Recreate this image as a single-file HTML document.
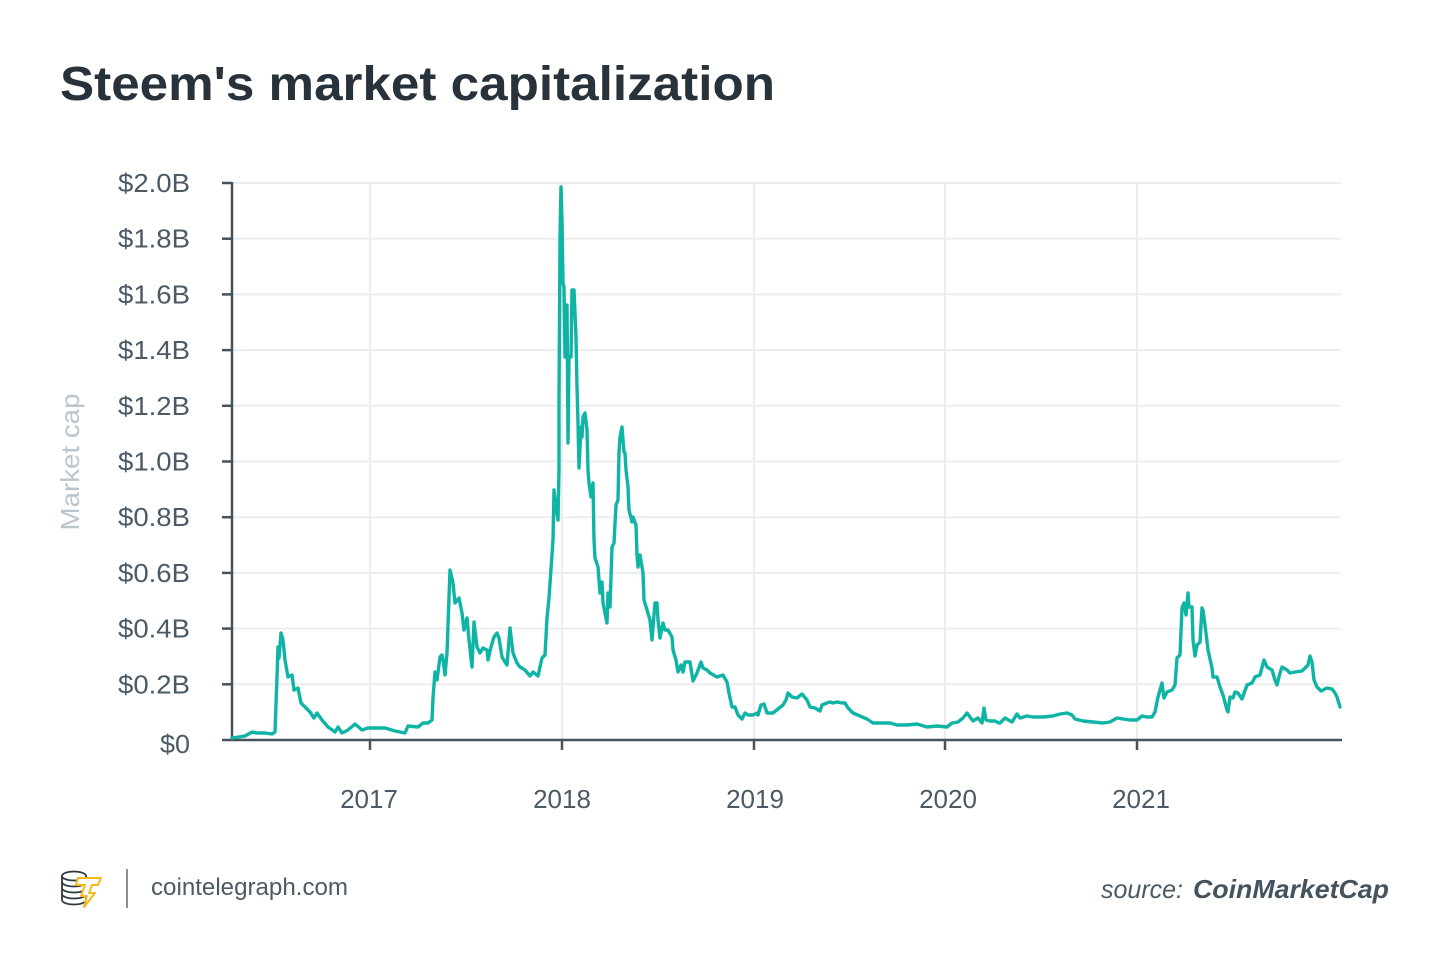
<!DOCTYPE html>
<html>
<head>
<meta charset="utf-8">
<style>
  html,body{margin:0;padding:0;background:#fff;}
  svg{display:block;}
  text{font-family:"Liberation Sans",sans-serif;}
</style>
</head>
<body>
<svg width="1450" height="969" viewBox="0 0 1450 969" xmlns="http://www.w3.org/2000/svg">
  <rect width="1450" height="969" fill="#ffffff"/>

  <!-- Title -->
  <text x="60" y="100" font-size="48" font-weight="bold" fill="#27323a" textLength="715" lengthAdjust="spacingAndGlyphs">Steem's market capitalization</text>

  <!-- Horizontal gridlines -->
  <g stroke="#ededed" stroke-width="2">
    <line x1="232" y1="183" x2="1341" y2="183"/>
    <line x1="232" y1="238.7" x2="1341" y2="238.7"/>
    <line x1="232" y1="294.4" x2="1341" y2="294.4"/>
    <line x1="232" y1="350.1" x2="1341" y2="350.1"/>
    <line x1="232" y1="405.8" x2="1341" y2="405.8"/>
    <line x1="232" y1="461.5" x2="1341" y2="461.5"/>
    <line x1="232" y1="517.2" x2="1341" y2="517.2"/>
    <line x1="232" y1="572.9" x2="1341" y2="572.9"/>
    <line x1="232" y1="628.6" x2="1341" y2="628.6"/>
    <line x1="232" y1="684.3" x2="1341" y2="684.3"/>
  </g>
  <!-- Vertical gridlines -->
  <g stroke="#ededed" stroke-width="2">
    <line x1="370" y1="183" x2="370" y2="740"/>
    <line x1="562" y1="183" x2="562" y2="740"/>
    <line x1="754" y1="183" x2="754" y2="740"/>
    <line x1="945" y1="183" x2="945" y2="740"/>
    <line x1="1137" y1="183" x2="1137" y2="740"/>
  </g>

  <!-- Axes -->
  <g stroke="#44535e" stroke-width="2.5" fill="none">
    <line x1="232" y1="182" x2="232" y2="741"/>
    <line x1="222" y1="740" x2="1342" y2="740"/>
    <line x1="222" y1="183" x2="232" y2="183"/>
    <line x1="222" y1="238.7" x2="232" y2="238.7"/>
    <line x1="222" y1="294.4" x2="232" y2="294.4"/>
    <line x1="222" y1="350.1" x2="232" y2="350.1"/>
    <line x1="222" y1="405.8" x2="232" y2="405.8"/>
    <line x1="222" y1="461.5" x2="232" y2="461.5"/>
    <line x1="222" y1="517.2" x2="232" y2="517.2"/>
    <line x1="222" y1="572.9" x2="232" y2="572.9"/>
    <line x1="222" y1="628.6" x2="232" y2="628.6"/>
    <line x1="222" y1="684.3" x2="232" y2="684.3"/>
    <line x1="370" y1="740" x2="370" y2="750"/>
    <line x1="562" y1="740" x2="562" y2="750"/>
    <line x1="754" y1="740" x2="754" y2="750"/>
    <line x1="945" y1="740" x2="945" y2="750"/>
    <line x1="1137" y1="740" x2="1137" y2="750"/>
  </g>

  <!-- Y labels -->
  <g font-size="26" fill="#4a5a66" text-anchor="end">
    <text x="190" y="192" textLength="72" lengthAdjust="spacingAndGlyphs">$2.0B</text>
    <text x="190" y="247.7" textLength="72" lengthAdjust="spacingAndGlyphs">$1.8B</text>
    <text x="190" y="303.4" textLength="72" lengthAdjust="spacingAndGlyphs">$1.6B</text>
    <text x="190" y="359.1" textLength="72" lengthAdjust="spacingAndGlyphs">$1.4B</text>
    <text x="190" y="414.8" textLength="72" lengthAdjust="spacingAndGlyphs">$1.2B</text>
    <text x="190" y="470.5" textLength="72" lengthAdjust="spacingAndGlyphs">$1.0B</text>
    <text x="190" y="526.2" textLength="72" lengthAdjust="spacingAndGlyphs">$0.8B</text>
    <text x="190" y="581.9" textLength="72" lengthAdjust="spacingAndGlyphs">$0.6B</text>
    <text x="190" y="637.6" textLength="72" lengthAdjust="spacingAndGlyphs">$0.4B</text>
    <text x="190" y="693.3" textLength="72" lengthAdjust="spacingAndGlyphs">$0.2B</text>
    <text x="190" y="753" textLength="30" lengthAdjust="spacingAndGlyphs">$0</text>
  </g>

  <!-- Y axis title -->
  <text transform="translate(79,462) rotate(-90)" font-size="26" fill="#b9c6cd" text-anchor="middle" textLength="137" lengthAdjust="spacingAndGlyphs">Market cap</text>

  <!-- X labels -->
  <g font-size="26" fill="#4a5a66" text-anchor="middle">
    <text x="369" y="808">2017</text>
    <text x="562" y="808">2018</text>
    <text x="755" y="808">2019</text>
    <text x="948" y="808">2020</text>
    <text x="1141" y="808">2021</text>
  </g>

  <!-- Data line -->
  <polyline fill="none" stroke="#10b4a5" stroke-width="3.4" stroke-linejoin="round" stroke-linecap="round" points="
232,738 245,736 252,732 257,733 265,733 272,734 275,732 277,677 278,647 279,658 281,633 283,640 285,660 288,677 292,675 294,690 298,688 301,703 305,707 310,712 314,718 317,713 322,720 328,727 335,732 338,727 342,733 348,730 355,724 362,730 368,728 377,728 385,728 395,731 405,733 408,726 418,727 423,723 428,723 432,720
433,698 435,672 437,680 440,657 442,655 443,660 445,675 447,653 450,570 453,583 455,603 459,598 462,613 464,630 467,618 469,640 472,667 474,622 477,647 480,653 483,648 487,650 488,660 491,647 494,637 497,633 499,638 502,657 505,662 507,665 510,628 513,653 517,663 520,667 525,670 530,676 533,672 538,676 542,658 545,655 547,618 549,598 553,540 554,490 556,507 558,520
559,470 559,400 560,237 561,187 562,220 563,283 564,287 565,357 566,307 567,305 568,443 569,357 571,357 572,290 574,290 576,337 577,387 578,423 579,468 581,427 582,437 583,417 585,413 587,430 588,470 589,483 591,497 593,483 594,540 595,558 598,567 600,593 602,582 603,603 607,623 608,593 610,607 612,547 614,543 616,505 618,500 619,452 620,437 622,427 623,440 624,452 625,453 626,470 628,487 629,510 632,522 633,517 636,525 637,555 638,567 640,555 643,573 644,600 647,610 650,620 652,640 653,627 655,603 657,603 658,620 660,638
663,623 665,630 668,630 672,637 673,650 676,660 678,672 681,665 683,672 685,662 690,662 693,681 697,673 701,662 703,668 707,670 710,673 717,677 723,675 727,682 729,693 732,707 735,707 738,715 742,719 745,713 748,715 753,715 757,713 758,715 761,705 764,704 767,713 773,713 778,709 783,705 786,700 788,693 792,697 797,698 802,694 807,700 810,707 815,708 820,711 822,705 827,703 830,702 833,703 837,702 842,703 845,703 848,708 853,713 860,716 867,719 873,723 880,723 890,723 897,725 907,725 917,724 927,727 937,726 947,727 952,723 958,722 963,718 967,713 970,717 973,721 978,718 982,723 984,708 986,720 990,721 995,721 999,723
1000,723 1005,718 1012,722 1017,714 1020,718 1027,716 1033,717 1043,717 1053,716 1060,714 1067,713 1072,715 1075,719 1083,721 1093,722 1103,723 1110,722 1117,718 1123,719 1130,720 1137,720 1142,716 1147,717 1152,717 1155,712 1158,697 1162,683 1164,698 1167,692 1172,690 1175,685 1177,658 1180,655 1182,608 1184,603 1186,615 1188,593 1189,607 1192,607 1193,640 1195,656 1197,645 1200,642 1202,608 1203,610 1206,633 1208,650 1212,668 1213,677 1217,677 1220,687 1223,695 1227,710 1228,712 1230,697 1233,698 1235,692 1238,693 1242,699 1247,685 1252,683 1255,677 1260,675 1264,660 1267,667 1272,670 1275,680 1277,685 1280,673 1282,667 1287,670 1290,673 1295,672 1302,671 1305,668 1308,665 1310,656 1312,662 1314,680 1317,687 1321,691 1327,688 1332,689 1335,693 1337,697 1340,707"/>

  <!-- Footer logo -->
  <g fill="none" stroke="#2f3a40" stroke-width="1.8">
    <ellipse cx="74" cy="876" rx="12" ry="4.5" fill="#fff"/>
    <path d="M62,876 v6 a12,4.5 0 0 0 24,0 v-6"/>
    <path d="M62,882 v6 a12,4.5 0 0 0 24,0 v-6"/>
    <path d="M62,888 v6 a12,4.5 0 0 0 24,0 v-6"/>
    <path d="M62,894 v6 a12,4.5 0 0 0 24,0 v-6"/>
  </g>
  <polygon points="78,878 101,878 98,885 92,885 89,893 95,893 84,907 87,896 81,896 85,885 76,885" fill="#fff" stroke="#f6b91b" stroke-width="2" stroke-linejoin="round"/>
  <line x1="127" y1="869" x2="127" y2="908" stroke="#8a8f93" stroke-width="2"/>
  <text x="151" y="895" font-size="24" fill="#4a5a66" textLength="197" lengthAdjust="spacingAndGlyphs">cointelegraph.com</text>

  <!-- Source -->
  <text x="1101" y="898" font-size="26" fill="#4a5a66" font-style="italic" textLength="82" lengthAdjust="spacingAndGlyphs">source:</text>
  <text x="1193" y="898" font-size="26" fill="#44535e" font-style="italic" font-weight="bold" textLength="196" lengthAdjust="spacingAndGlyphs">CoinMarketCap</text>
</svg>
</body>
</html>
